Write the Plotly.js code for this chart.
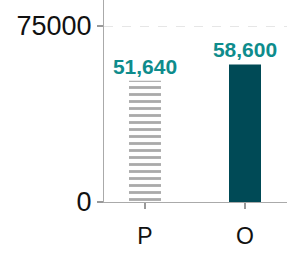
<!DOCTYPE html>
<html><head><meta charset="utf-8">
<script src="https://cdn.plot.ly/plotly-3.0.1.min.js"></script>
<style>html,body{margin:0;padding:0;background:#fff}#c{width:298px;height:253px}</style>
</head><body><div id="c"></div>
<script>
const categories = ["P", "O"];
const values = [51640, 58600];
const labels = ["51,640", "58,600"];
const yTickVals = [0, 75000];
const yTickText = ["0", "75000"];

const labelFont = {family: "Liberation Sans, Arial, sans-serif", size: 21, color: "#0e8c8c", weight: "bold"};

const traceP = {
  type: "bar",
  x: [0],
  y: [values[0]],
  width: 0.32,
  text: [labels[0]],
  textposition: "outside",
  constraintext: "none",
  cliponaxis: false,
  textfont: labelFont,
  marker: {
    color: "#ffffff",
    line: {width: 0},
    pattern: {shape: "-", fgcolor: "#aaaaaa", bgcolor: "#ffffff", size: 7, solidity: 0.4, fillmode: "replace"}
  },
  hoverinfo: "none"
};
const traceO = {
  type: "bar",
  x: [1],
  y: [values[1]],
  width: 0.32,
  text: [labels[1]],
  textposition: "outside",
  constraintext: "none",
  cliponaxis: false,
  textfont: labelFont,
  marker: {color: "#004a56", line: {width: 0}},
  hoverinfo: "none"
};

const layout = {
  width: 298, height: 253,
  margin: {l: 104, r: 11, t: 0, b: 51},
  paper_bgcolor: "#ffffff", plot_bgcolor: "#ffffff",
  showlegend: false,
  barmode: "overlay",
  font: {family: "Liberation Sans, Arial, sans-serif", color: "#111111"},
  xaxis: {
    range: [-0.41, 1.42],
    tickvals: [0, 1], ticktext: categories,
    tickfont: {size: 23},
    ticks: "outside", ticklen: 6, tickwidth: 2, tickcolor: "#999999",
    ticklabelstandoff: 7,
    showline: true, linecolor: "#aaaaaa", linewidth: 1,
    showgrid: false, zeroline: false, fixedrange: true
  },
  yaxis: {
    range: [0, 86080],
    tickvals: yTickVals, ticktext: yTickText,
    tickfont: {size: 27},
    ticks: "outside", ticklen: 6, tickwidth: 2, tickcolor: "#999999",
    showline: true, linecolor: "#aaaaaa", linewidth: 1,
    showgrid: true, gridcolor: "#e6e6e6", griddash: "dash", gridwidth: 1,
    zeroline: false, fixedrange: true
  }
};

Plotly.newPlot("c", [traceP, traceO], layout, {displayModeBar: false, staticPlot: true});
</script></body></html>
